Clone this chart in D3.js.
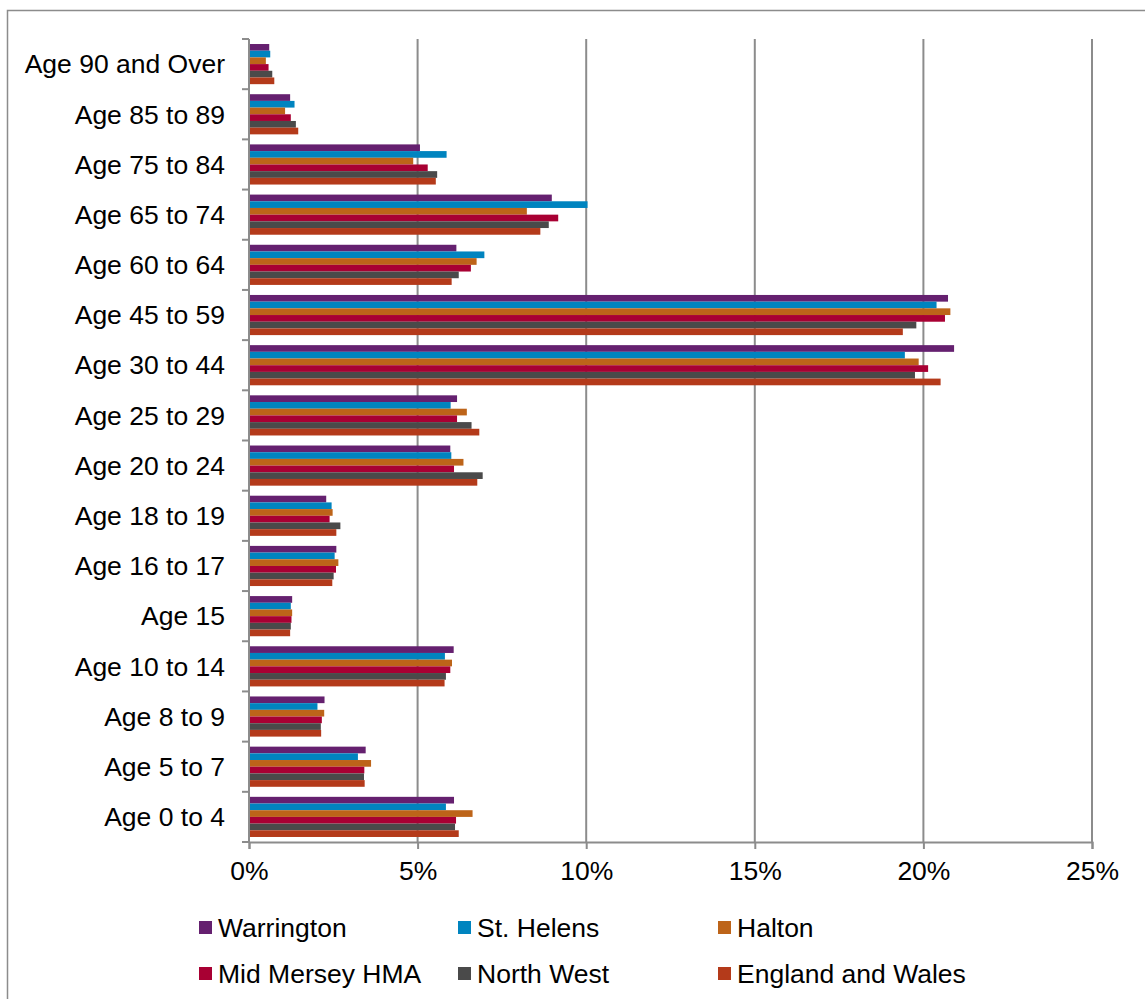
<!DOCTYPE html>
<html>
<head>
<meta charset="utf-8">
<script src="https://cdn.jsdelivr.net/npm/d3@7"></script>
<style>
  html, body { margin: 0; padding: 0; background: #fff; }
  svg { display: block; font-family: "Liberation Sans", Arial, sans-serif; }
</style>
</head>
<body>
<svg id="chart" width="1145" height="999"></svg>
<script>
// Categories, top to bottom as drawn
const categories = ["Age 90 and Over", "Age 85 to 89", "Age 75 to 84", "Age 65 to 74", "Age 60 to 64",
  "Age 45 to 59", "Age 30 to 44", "Age 25 to 29", "Age 20 to 24", "Age 18 to 19", "Age 16 to 17",
  "Age 15", "Age 10 to 14", "Age 8 to 9", "Age 5 to 7", "Age 0 to 4"];

const seriesNames = ["Warrington", "St. Helens", "Halton", "Mid Mersey HMA", "North West", "England and Wales"];
const seriesColors = ["#65206f", "#0084bf", "#bd6419", "#a80033", "#4a4a4a", "#b43a1a"];

// Percent values, same order as categories
const warrington = [0.60, 1.22, 5.07, 8.98, 6.15, 20.73, 20.91, 6.17, 5.97, 2.29, 2.59, 1.28, 6.07, 2.24, 3.46, 6.08];
const stHelens   = [0.63, 1.35, 5.86, 10.04, 6.98, 20.39, 19.45, 5.98, 6.00, 2.45, 2.54, 1.24, 5.81, 2.03, 3.23, 5.84];
const halton     = [0.50, 1.07, 4.87, 8.24, 6.75, 20.80, 19.86, 6.46, 6.36, 2.48, 2.65, 1.28, 6.02, 2.23, 3.62, 6.63];
const midMersey  = [0.58, 1.24, 5.30, 9.17, 6.58, 20.64, 20.14, 6.17, 6.08, 2.39, 2.58, 1.26, 5.97, 2.16, 3.42, 6.14];
const northWest  = [0.69, 1.39, 5.58, 8.89, 6.22, 19.79, 19.75, 6.60, 6.93, 2.71, 2.51, 1.24, 5.84, 2.13, 3.41, 6.11];
const englandWales = [0.75, 1.46, 5.54, 8.64, 6.01, 19.39, 20.51, 6.83, 6.77, 2.59, 2.47, 1.22, 5.80, 2.14, 3.43, 6.22];

const xTicks = [0, 5, 10, 15, 20, 25];

const seriesValues = [warrington, stHelens, halton, midMersey, northWest, englandWales];

const svg = d3.select("#chart");
const plotLeft = 249, plotRight = 1092, plotTop = 39, plotBottom = 842;
const gridColor = "#8c8c8c";
const fontSize = 26.5;

// outer border
svg.append("rect").attr("x", 7.5).attr("y", 10.5).attr("width", 1150).attr("height", 1000)
  .attr("fill", "none").attr("stroke", "#8c8c8c").attr("stroke-width", 1.5);

const x = d3.scaleLinear().domain([0, 25]).range([plotLeft, plotRight]);
const y = d3.scaleBand().domain(categories).range([plotTop, plotBottom]).paddingInner(0.2).paddingOuter(0.1);
const ys = d3.scaleBand().domain(seriesNames).range([0, y.bandwidth()]).padding(0);

// gridlines
svg.append("g").selectAll("line").data(xTicks.filter(d => d > 0)).join("line")
  .attr("x1", d => x(d)).attr("x2", d => x(d))
  .attr("y1", plotTop).attr("y2", plotBottom)
  .attr("stroke", gridColor).attr("stroke-width", 2);

// bars
const rows = [];
categories.forEach((c, i) => seriesNames.forEach((s, j) => rows.push({ c, s, v: seriesValues[j][i], color: seriesColors[j] })));
svg.append("g").selectAll("rect").data(rows).join("rect")
  .attr("x", x(0))
  .attr("y", d => y(d.c) + ys(d.s))
  .attr("width", d => x(d.v) - x(0))
  .attr("height", ys.bandwidth())
  .attr("fill", d => d.color);

// x axis
const xAxis = d3.axisBottom(x).tickValues(xTicks).tickFormat(d => d + "%").tickSizeOuter(0).tickSize(7).tickPadding(12);
const gx = svg.append("g").attr("transform", `translate(0,${plotBottom})`).call(xAxis);
gx.select(".domain").attr("stroke", gridColor).attr("stroke-width", 2);
gx.selectAll(".tick line").attr("stroke", gridColor).attr("stroke-width", 2);
gx.selectAll(".tick text").attr("font-size", fontSize).attr("fill", "#000")
  .attr("font-family", "'Liberation Sans', Arial, sans-serif");

// y axis line
svg.append("line").attr("x1", plotLeft).attr("x2", plotLeft).attr("y1", plotTop).attr("y2", plotBottom)
  .attr("stroke", gridColor).attr("stroke-width", 2);
// category boundary ticks
const boundaryYs = d3.range(categories.length + 1).map(i => plotTop + i * y.step());
svg.append("g").selectAll("line").data(boundaryYs).join("line")
  .attr("x1", plotLeft - 7).attr("x2", plotLeft).attr("y1", d => d).attr("y2", d => d)
  .attr("stroke", gridColor).attr("stroke-width", 2);

// category labels
svg.append("g").selectAll("text").data(categories).join("text")
  .attr("x", 225).attr("y", d => y(d) + y.bandwidth() / 2)
  .attr("dy", "0.35em").attr("text-anchor", "end")
  .attr("font-size", fontSize).attr("fill", "#000").text(d => d);

// legend
const legendPos = [[199, 921], [458, 921], [718, 921], [199, 967], [458, 967], [718, 967]];
const lg = svg.append("g").selectAll("g").data(seriesNames).join("g")
  .attr("transform", (d, i) => `translate(${legendPos[i][0]},${legendPos[i][1]})`);
lg.append("rect").attr("width", 13).attr("height", 13).attr("fill", (d, i) => seriesColors[i]);
lg.append("text").attr("x", 19).attr("y", 6.5).attr("dy", "0.35em")
  .attr("font-size", fontSize).attr("fill", "#000").text(d => d);
</script>
</body>
</html>
